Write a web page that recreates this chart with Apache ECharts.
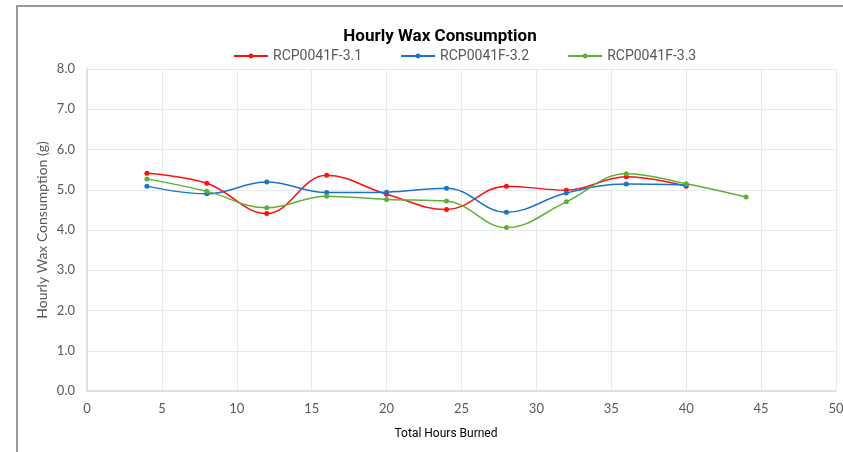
<!DOCTYPE html>
<html lang="en">
<head>
    <meta charset="UTF-8">
    <title>Hourly Wax Consumption</title>
    <script src="https://cdn.jsdelivr.net/npm/echarts@6/dist/echarts.min.js"></script>
    <style>
        html, body { margin: 0; padding: 0; background: #fff; }
        #chart { width: 843px; height: 452px; }
    </style>
</head>
<body>
    <div id="chart"></div>
</body>
<script type="text/javascript">
    var hours = [4, 8, 12, 16, 20, 24, 28, 32, 36, 40, 44];
    var names = ['RCP0041F-3.1', 'RCP0041F-3.2', 'RCP0041F-3.3'];
    var wax31 = [5.41, 5.16, 4.41, 5.36, 4.89, 4.51, 5.09, 4.99, 5.32, 5.09];
    var wax32 = [5.09, 4.90, 5.19, 4.93, 4.94, 5.04, 4.44, 4.92, 5.14, 5.12];
    var wax33 = [5.27, 4.96, 4.55, 4.84, 4.76, 4.72, 4.06, 4.70, 5.40, 5.15, 4.82];
    var colors = ['#FF1010', '#1874CD', '#5DB035'];

    var narrow = "'Liberation Sans Narrow', Roboto, sans-serif";
    var label = "Lato, 'Open Sans', sans-serif";

    function pairs(vals) {
        var out = [];
        for (var i = 0; i < vals.length; i++) {
            out.push([hours[i], vals[i]]);
        }
        return out;
    }

    function lineSeries(name, vals, color) {
        return {
            name: name,
            type: 'line',
            smooth: 0.4,
            data: pairs(vals),
            symbol: 'circle',
            symbolSize: 5,
            lineStyle: { color: color, width: 1.5 },
            itemStyle: { color: color },
            emphasis: { disabled: true }
        };
    }

    var chart = echarts.init(document.getElementById('chart'));
    var option = {
        animation: false,
        title: {
            text: 'Hourly Wax Consumption',
            left: 435,
            textAlign: 'center',
            top: 23,
            textStyle: {
                fontFamily: narrow,
                fontWeight: 'bold',
                fontSize: 17,
                color: '#000'
            }
        },
        legend: {
            data: names,
            left: 228,
            top: 44,
            itemGap: 38,
            itemWidth: 34,
            itemHeight: 6,
            textStyle: {
                fontFamily: narrow,
                fontSize: 14,
                color: '#595959'
            }
        },
        grid: { left: 87, right: 7, top: 69, bottom: 61, outerBoundsMode: 'none' },
        xAxis: {
            type: 'value',
            min: 0,
            max: 50,
            interval: 5,
            axisLine: { show: true, lineStyle: { color: '#D4DAE4', width: 1.5 } },
            axisTick: { show: false },
            axisLabel: {
                color: '#595959',
                fontFamily: label,
                fontSize: 13,
                margin: 11
            },
            splitLine: { show: true, lineStyle: { color: '#E6EAF0' } }
        },
        yAxis: {
            type: 'value',
            min: 0,
            max: 8,
            interval: 1,
            axisLine: { show: true, lineStyle: { color: '#D4DAE4', width: 1.5 } },
            axisTick: { show: false },
            axisLabel: {
                color: '#595959',
                fontFamily: label,
                fontSize: 13,
                margin: 12,
                formatter: function (v) { return v.toFixed(1); }
            },
            splitLine: { show: true, lineStyle: { color: '#E6EAF0' } }
        },
        graphic: [
            {
                type: 'rect',
                shape: { x: 17, y: 6, width: 900, height: 500 },
                style: { fill: 'none', stroke: '#9A9A9A', lineWidth: 2 },
                silent: true
            },
            {
                type: 'text',
                x: 446,
                y: 434,
                style: {
                    text: 'Total Hours Burned',
                    fill: '#000',
                    font: "12px 'Liberation Sans Narrow', Roboto, sans-serif",
                    align: 'center',
                    verticalAlign: 'middle'
                }
            },
            {
                type: 'text',
                x: 42,
                y: 230,
                rotation: Math.PI / 2,
                style: {
                    text: 'Hourly Wax Consumption (g)',
                    fill: '#595959',
                    font: "14px Lato, 'Open Sans', sans-serif",
                    align: 'center',
                    verticalAlign: 'middle'
                }
            }
        ],
        series: [
            lineSeries(names[0], wax31, colors[0]),
            lineSeries(names[1], wax32, colors[1]),
            lineSeries(names[2], wax33, colors[2])
        ]
    };
    chart.setOption(option);
    window.addEventListener('resize', function () {
        chart.resize();
    });
</script>
</html>
